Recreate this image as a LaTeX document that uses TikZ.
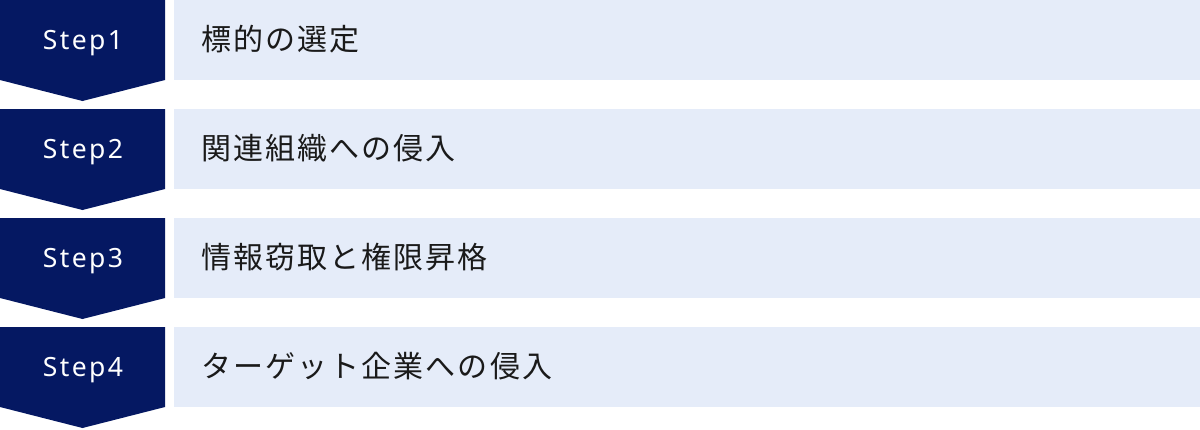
\documentclass[tikz,border=0pt]{standalone}
\usepackage{fontspec}
\newfontfamily\stepfont[LetterSpace=9]{Noto Sans}
\newfontfamily\jpfont[LetterSpace=7]{Noto Sans CJK JP}
\definecolor{navy}{RGB}{5,24,98}
\definecolor{lightbox}{RGB}{229,236,249}
\definecolor{txt}{RGB}{26,26,26}
\tikzset{
  chev/.style={fill=navy, draw=none},
  steplabel/.style={text=white, font=\stepfont\fontsize{26.5bp}{30bp}\selectfont, inner sep=0pt, anchor=base},
  band/.style={fill=lightbox, draw=none, anchor=north west, minimum width=1026bp, minimum height=80bp, inner sep=0pt},
  bandlabel/.style={text=txt, font=\jpfont\fontsize{30bp}{34bp}\selectfont, anchor=west, inner sep=0pt}
}
\begin{document}
\begin{tikzpicture}[x=1bp,y=-1bp]
\useasboundingbox (0,0) rectangle (1200,429);
\foreach \i/\t in {0/標的の選定,1/関連組織への侵入,2/情報窃取と権限昇格,3/ターゲット企業への侵入}{
  \pgfmathsetmacro{\o}{109*\i}
  \pgfmathtruncatemacro{\n}{\i+1}
  \fill[chev] (0,\o) -- (165,\o) -- (165,\o+80) -- (82.5,\o+101) -- (0,\o+80) -- cycle;
  \node[steplabel] (s\n) at (83,\o+49) {Step\n};
  \node[band] (b\n) at (174,\o) {};
  \node[bandlabel] (t\n) at (201,\o+39.5) {\t};
}
\end{tikzpicture}
\end{document}
